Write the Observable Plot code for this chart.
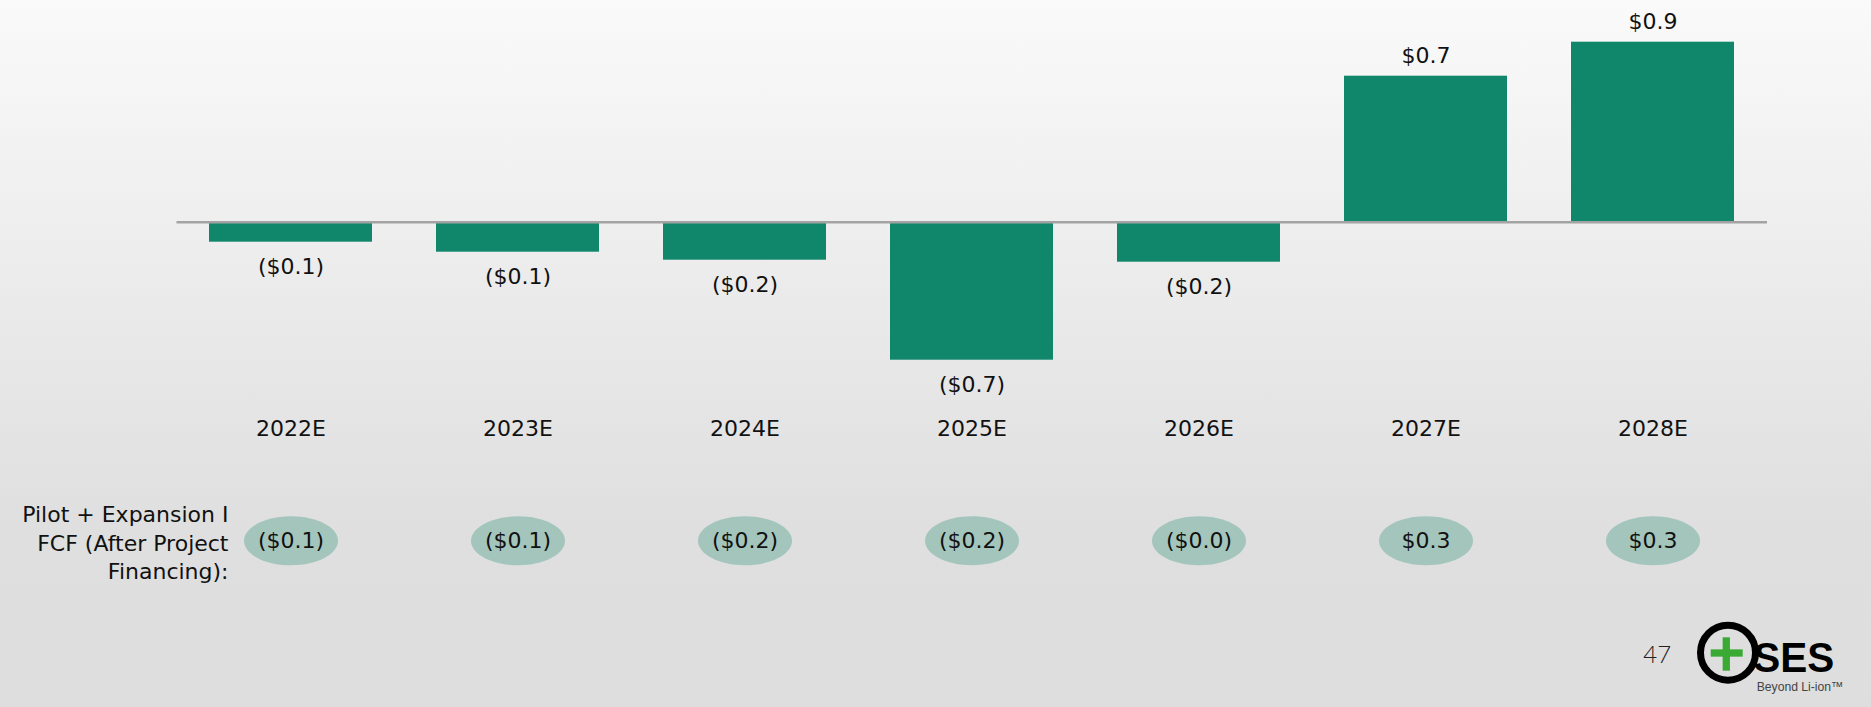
<!DOCTYPE html>
<html>
<head>
<meta charset="utf-8">
<script src="https://cdn.jsdelivr.net/npm/d3@7"></script>
<script src="https://cdn.jsdelivr.net/npm/@observablehq/plot@0.6"></script>
<style>
  html, body { margin: 0; padding: 0; }
  #slide {
    position: relative; width: 1871px; height: 707px; overflow: hidden;
    background: linear-gradient(to bottom, #fafafa 0%, #efefef 30%, #e6e6e6 55%, #dfdfdf 75%, #dedede 100%);
    font-family: "DejaVu Sans", sans-serif;
  }
  #chart { position: absolute; left: 0; top: 0; }
  #logo { position: absolute; left: 1630px; top: 610px; }
</style>
</head>
<body>
<div id="slide">
  <div id="chart"></div>
  <svg id="logo" width="241" height="97" viewBox="0 0 241 97">
    <text x="13.3" y="53.3" font-family="Lato, DejaVu Sans, sans-serif" font-weight="300" font-size="24" fill="#222">47</text>
    <circle cx="98" cy="42.7" r="27.5" fill="none" stroke="#000" stroke-width="7"/>
    <rect x="80.7" y="39.35" width="32" height="7.3" fill="#3aaa35"/>
    <rect x="92.65" y="27.3" width="7.3" height="33.4" fill="#3aaa35"/>
    <text x="123.3" y="61.7" font-family="Liberation Sans, Arial, sans-serif" font-weight="bold" font-size="43" fill="#000" textLength="81" lengthAdjust="spacingAndGlyphs">SES</text>
    <text x="126.7" y="81" font-family="Liberation Sans, Arial, sans-serif" font-size="13" fill="#444" textLength="86.6" lengthAdjust="spacingAndGlyphs">Beyond Li-ion™</text>
  </svg>
</div>
<script>
// ---- data ----
const years = ["2022E", "2023E", "2024E", "2025E", "2026E", "2027E", "2028E"];
const fcf = [-0.10, -0.15, -0.19, -0.69, -0.20, 0.73, 0.90];
const fcfLabels = ["($0.1)", "($0.1)", "($0.2)", "($0.7)", "($0.2)", "$0.7", "$0.9"];
const pilotValues = [-0.1, -0.1, -0.2, -0.2, -0.0, 0.3, 0.3];
const pilotLabels = ["($0.1)", "($0.1)", "($0.2)", "($0.2)", "($0.0)", "$0.3", "$0.3"];
const rowLabel = "Pilot + Expansion I\nFCF (After Project\nFinancing):";

const bars = years.map((y, i) => ({year: y, value: fcf[i], label: fcfLabels[i]}));
const pilot = years.map((y, i) => ({year: y, value: pilotValues[i], label: pilotLabels[i]}));

// ellipse symbol for the bottom row
const ellipse = {
  draw(context) {
    const rx = 47, ry = 24.5, k = 0.5522847;
    context.moveTo(rx, 0);
    context.bezierCurveTo(rx, ry * k, rx * k, ry, 0, ry);
    context.bezierCurveTo(-rx * k, ry, -rx, ry * k, -rx, 0);
    context.bezierCurveTo(-rx, -ry * k, -rx * k, -ry, 0, -ry);
    context.bezierCurveTo(rx * k, -ry, rx, -ry * k, rx, 0);
    context.closePath();
  }
};

const rowOffset = 128.6;
const font = "DejaVu Sans, sans-serif";

const chart = Plot.plot({
  width: 1871,
  height: 707,
  marginTop: 21.7,
  marginBottom: 295.3,
  marginLeft: 176.5,
  marginRight: 104,
  style: {background: "transparent", fontFamily: font, overflow: "visible"},
  x: {domain: years, paddingInner: 0.283, paddingOuter: 0.1415, axis: null, label: null},
  y: {domain: [-0.95, 1.0], axis: null},
  marks: [
    Plot.barY(bars, {x: "year", y: "value", fill: "#10876b"}),
    Plot.ruleY([0], {stroke: "#a3a3a3", strokeWidth: 2.6}),
    Plot.text(bars.filter(d => d.value < 0), {x: "year", y: "value", text: "label", dy: 25, fontSize: 22, fill: "#111"}),
    Plot.text(bars.filter(d => d.value >= 0), {x: "year", y: "value", text: "label", dy: -20, fontSize: 22, fill: "#111"}),
    Plot.axisX({tickSize: 0, tickPadding: 8, fontSize: 22, color: "#111", label: null}),
    Plot.dot(pilot, {x: "year", frameAnchor: "bottom", dy: rowOffset, r: 1, symbol: ellipse, fill: "#a3c5bc", stroke: "none"}),
    Plot.text(pilot, {x: "year", frameAnchor: "bottom", lineAnchor: "middle", dy: rowOffset, text: "label", fontSize: 22, fill: "#111"}),
    Plot.text([rowLabel], {frameAnchor: "bottom-left", lineAnchor: "middle", dx: 51.5, dy: rowOffset + 0.7, text: d => d, textAnchor: "end", lineHeight: 1.3, fontSize: 22, fill: "#111"})
  ]
});
document.getElementById("chart").appendChild(chart);
</script>
</body>
</html>
